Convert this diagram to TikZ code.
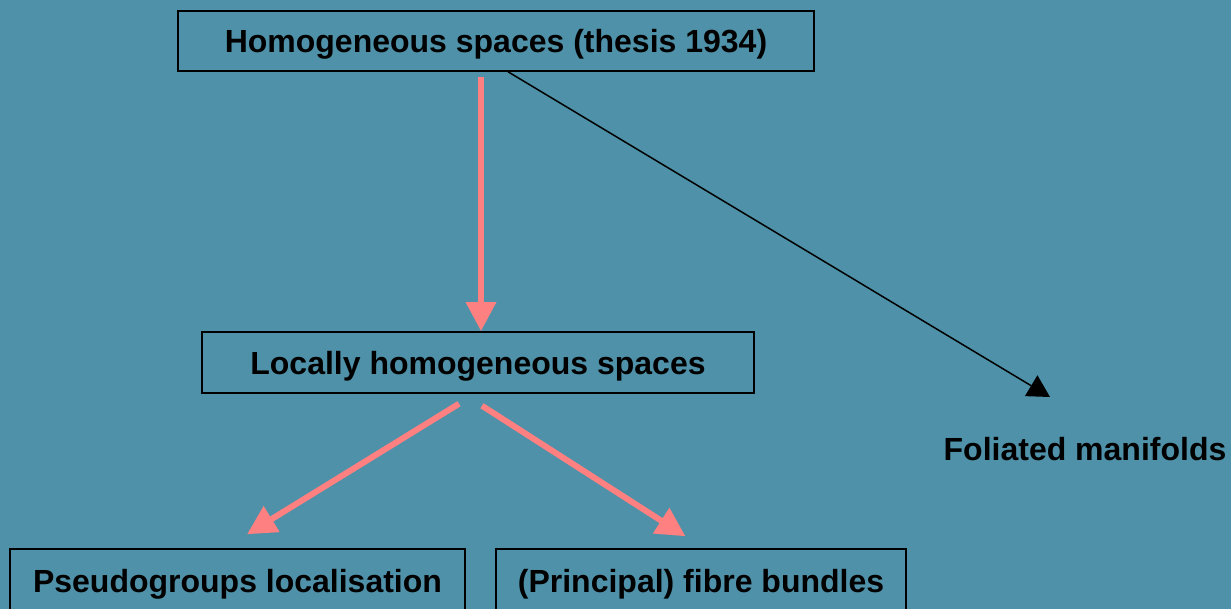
\documentclass[tikz,border=0pt]{standalone}
\usepackage{fontspec}
\setmainfont{Liberation Sans}
\usepackage{xcolor}
\usetikzlibrary{positioning, arrows.meta, calc}
\definecolor{slidebg}{HTML}{4E91A8}
\definecolor{linkpink}{HTML}{FF8080}

\begin{document}
\begin{tikzpicture}[x=1pt, y=-1pt,
    every node/.style={font=\fontsize{32}{38}\selectfont\bfseries, text=black},
    topicbox/.style={draw=black, line width=1.5pt, inner sep=0pt, text depth=0pt},
    pinkarrow/.style={draw=linkpink, line width=6pt, -{Triangle[length=29pt, width=29pt]}},
    thinarrow/.style={draw=black, line width=1.5pt, -{Triangle[length=22pt, width=24pt]}}]
        % Background of the slide
        \fill[slidebg] (0,0) rectangle (1231,609);
        \useasboundingbox (0,0) rectangle (1231,609);
        % Boxes
        \node[topicbox, minimum width=636pt, minimum height=60pt] (homog) at (496,41) {Homogeneous spaces (thesis 1934)};
        \node[topicbox, minimum width=552pt, minimum height=61pt] (local) at (478,362.5) {Locally homogeneous spaces};
        \node[topicbox, minimum width=455pt, minimum height=64pt] (pseudo) at (237.5,581) {Pseudogroups localisation};
        \node[topicbox, minimum width=410pt, minimum height=64pt] (fibre) at (701,581) {(Principal) fibre bundles};
        \node (foli) at (1085,449) {Foliated manifolds};
        \coordinate (folitip) at (1050,397);
        % Links
        \draw[pinkarrow] ([xshift=-15pt, yshift=-5pt]homog.south) -- ([xshift=3pt]local.north);
        \draw[thinarrow] ([xshift=12pt]homog.south) -- (folitip);
        \draw[pinkarrow] ([xshift=-19pt, yshift=-10pt]local.south) -- ([xshift=9.5pt, yshift=14pt]pseudo.north);
        \draw[pinkarrow] ([xshift=4pt, yshift=-12pt]local.south) -- ([xshift=-15.5pt, yshift=12pt]fibre.north);
      \end{tikzpicture}
\end{document}
